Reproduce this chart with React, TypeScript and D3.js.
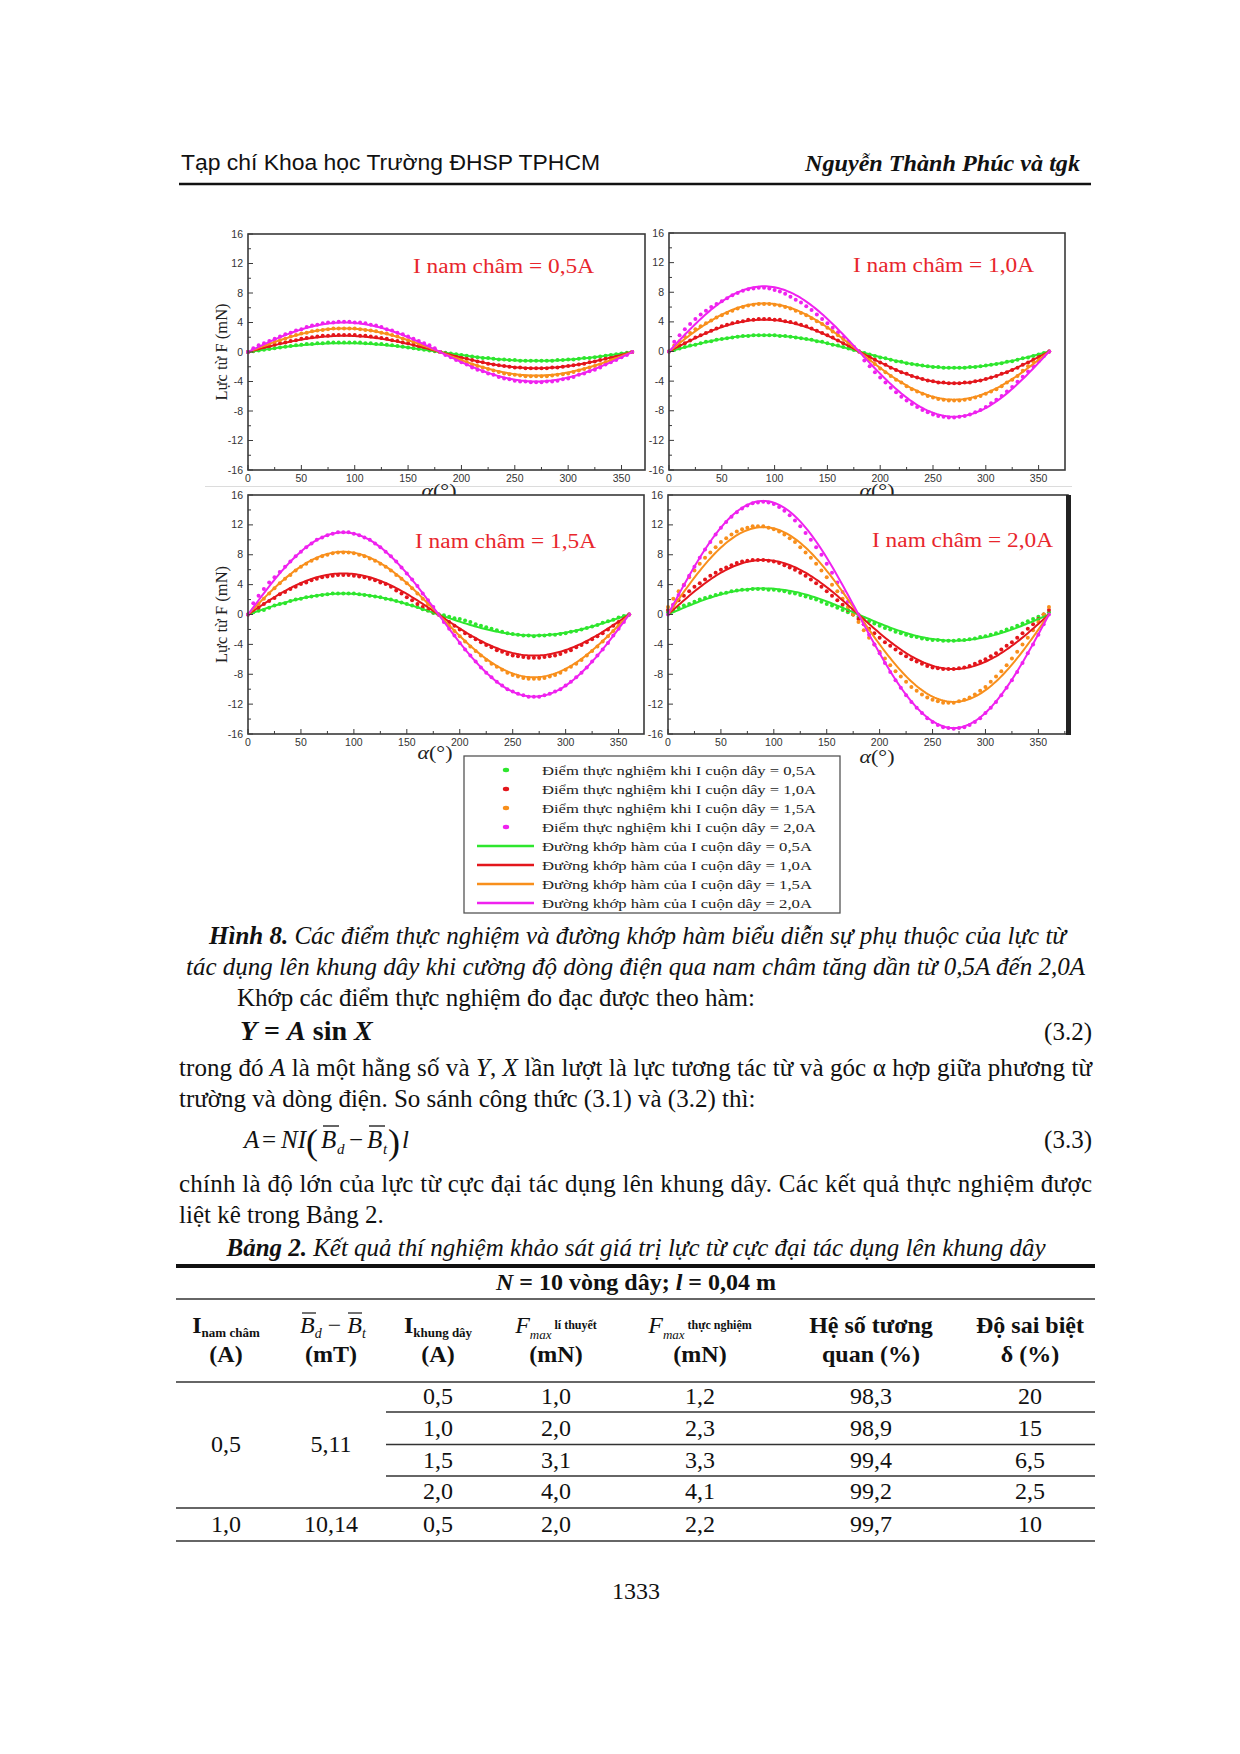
import React from 'react'
import * as d3 from 'd3'

// góc đo (độ), bước 5°
const angles = d3.range(0, 361, 5)

const seriesColors = ['#2ee62e', '#e3161c', '#f88f1c', '#ef22ef']
const coilCurrents = ['0,5A', '1,0A', '1,5A', '2,0A']
const magnetCurrents = ['0,5A', '1,0A', '1,5A', '2,0A']

// biên độ A của đường khớp hàm Y = A sin X (mN)
const fitAmp05 = [1.2, 2.2, 3.2, 4.0]
const fitAmp10 = [2.2, 4.3, 6.5, 8.8]
const fitAmp15 = [2.8, 5.5, 8.4, 11.0]
const fitAmp20 = [3.5, 7.3, 11.7, 15.2]

// điểm thực nghiệm (mN), I nam châm = 0,5A
const pts05Green = [0, 0.1, 0.2, 0.3, 0.4, 0.5, 0.6, 0.7, 0.8, 0.9, 1.0, 1.1, 1.1, 1.2, 1.2, 1.3, 1.3, 1.3, 1.3,
  1.3, 1.3, 1.3, 1.2, 1.2, 1.1, 1.1, 1.0, 0.9, 0.8, 0.7, 0.6, 0.5, 0.4, 0.3, 0.2, 0.1, 0,
  -0.1, -0.2, -0.3, -0.4, -0.5, -0.6, -0.7, -0.8, -0.8, -0.9, -1.0, -1.0, -1.1, -1.1, -1.2, -1.2, -1.2, -1.2,
  -1.2, -1.2, -1.2, -1.1, -1.1, -1.0, -1.0, -0.9, -0.8, -0.8, -0.7, -0.6, -0.5, -0.4, -0.3, -0.2, -0.1, 0]
const pts05Red = [0, 0.2, 0.4, 0.6, 0.8, 1.0, 1.2, 1.3, 1.5, 1.6, 1.8, 1.9, 2.0, 2.1, 2.2, 2.2, 2.3, 2.3, 2.3,
  2.3, 2.3, 2.2, 2.2, 2.1, 2.0, 1.9, 1.8, 1.6, 1.5, 1.3, 1.2, 1.0, 0.8, 0.6, 0.4, 0.2, 0,
  -0.2, -0.4, -0.6, -0.8, -0.9, -1.1, -1.3, -1.4, -1.6, -1.7, -1.8, -1.9, -2.0, -2.1, -2.1, -2.2, -2.2, -2.2,
  -2.2, -2.2, -2.1, -2.1, -2.0, -1.9, -1.8, -1.7, -1.6, -1.4, -1.3, -1.1, -0.9, -0.8, -0.6, -0.4, -0.2, 0]
const pts05Orange = [0, 0.3, 0.6, 0.8, 1.1, 1.4, 1.6, 1.8, 2.1, 2.3, 2.5, 2.6, 2.8, 2.9, 3.0, 3.1, 3.2, 3.2, 3.2,
  3.2, 3.2, 3.1, 3.0, 2.9, 2.8, 2.6, 2.5, 2.3, 2.1, 1.8, 1.6, 1.4, 1.1, 0.8, 0.6, 0.3, 0,
  -0.3, -0.6, -0.9, -1.1, -1.4, -1.7, -1.9, -2.1, -2.3, -2.5, -2.7, -2.9, -3.0, -3.1, -3.2, -3.3, -3.3, -3.3,
  -3.3, -3.3, -3.2, -3.1, -3.0, -2.9, -2.7, -2.5, -2.3, -2.1, -1.9, -1.7, -1.4, -1.1, -0.9, -0.6, -0.3, 0]
const pts05Magenta = [0, 0.5, 0.9, 1.2, 1.5, 1.8, 2.1, 2.4, 2.6, 2.9, 3.1, 3.4, 3.6, 3.7, 3.9, 4.0, 4.0, 4.1, 4.1,
  4.1, 4.0, 4.0, 3.9, 3.7, 3.6, 3.4, 3.1, 2.9, 2.6, 2.4, 2.1, 1.8, 1.5, 1.2, 0.9, 0.5, 0,
  -0.4, -0.7, -1.1, -1.4, -1.7, -2.1, -2.4, -2.6, -2.9, -3.1, -3.4, -3.6, -3.7, -3.9, -4.0, -4.0, -4.1, -4.1,
  -4.1, -4.0, -4.0, -3.9, -3.7, -3.6, -3.4, -3.1, -2.9, -2.6, -2.4, -2.1, -1.7, -1.4, -1.1, -0.7, -0.4, 0]

// I nam châm = 1,0A
const pts10Green = [0, 0.2, 0.4, 0.6, 0.8, 0.9, 1.1, 1.3, 1.4, 1.6, 1.7, 1.8, 1.9, 2.0, 2.1, 2.1, 2.2, 2.2, 2.2,
  2.2, 2.2, 2.1, 2.1, 2.0, 1.9, 1.8, 1.7, 1.6, 1.4, 1.3, 1.1, 0.9, 0.8, 0.6, 0.4, 0.2, 0,
  -0.2, -0.4, -0.6, -0.8, -0.9, -1.1, -1.3, -1.4, -1.6, -1.7, -1.8, -1.9, -2.0, -2.1, -2.1, -2.2, -2.2, -2.2,
  -2.2, -2.2, -2.1, -2.1, -2.0, -1.9, -1.8, -1.7, -1.6, -1.4, -1.3, -1.1, -0.9, -0.8, -0.6, -0.4, -0.2, 0]
const pts10Red = [0, 0.4, 0.8, 1.1, 1.5, 1.9, 2.2, 2.5, 2.8, 3.1, 3.4, 3.6, 3.8, 4.0, 4.1, 4.3, 4.3, 4.4, 4.4,
  4.4, 4.3, 4.3, 4.1, 4.0, 3.8, 3.6, 3.4, 3.1, 2.8, 2.5, 2.2, 1.9, 1.5, 1.1, 0.8, 0.4, 0,
  -0.4, -0.7, -1.1, -1.5, -1.8, -2.2, -2.5, -2.8, -3.0, -3.3, -3.5, -3.7, -3.9, -4.0, -4.2, -4.2, -4.3, -4.3,
  -4.3, -4.2, -4.2, -4.0, -3.9, -3.7, -3.5, -3.3, -3.0, -2.8, -2.5, -2.2, -1.8, -1.5, -1.1, -0.7, -0.4, 0]
const pts10Orange = [0, 0.8, 1.4, 2.0, 2.5, 3.0, 3.4, 3.8, 4.2, 4.6, 4.9, 5.2, 5.5, 5.8, 6.0, 6.2, 6.3, 6.4, 6.4,
  6.4, 6.3, 6.2, 6.0, 5.8, 5.5, 5.2, 4.9, 4.5, 4.1, 3.7, 3.2, 2.7, 2.2, 1.7, 1.1, 0.6, 0,
  -0.6, -1.1, -1.7, -2.3, -2.8, -3.3, -3.8, -4.2, -4.7, -5.1, -5.4, -5.7, -6.0, -6.2, -6.4, -6.5, -6.6, -6.6,
  -6.6, -6.5, -6.4, -6.2, -6.0, -5.7, -5.4, -5.1, -4.7, -4.2, -3.8, -3.3, -2.6, -2.0, -1.4, -0.9, -0.4, 0]
const pts10Magenta = [0, 1.3, 2.2, 3.0, 3.7, 4.4, 5.0, 5.5, 6.0, 6.4, 6.8, 7.2, 7.6, 7.9, 8.2, 8.4, 8.5, 8.6, 8.6,
  8.5, 8.3, 8.1, 7.8, 7.4, 7.0, 6.6, 6.1, 5.6, 5.0, 4.4, 3.8, 3.2, 2.6, 1.9, 1.3, 0.6, 0,
  -1.2, -2.0, -2.8, -3.5, -4.2, -4.9, -5.5, -6.1, -6.6, -7.1, -7.5, -7.9, -8.2, -8.5, -8.7, -8.8, -8.9, -8.9,
  -8.8, -8.7, -8.5, -8.2, -7.9, -7.5, -7.0, -6.5, -6.0, -5.4, -4.8, -4.1, -3.4, -2.7, -2.0, -1.3, -0.6, 0]

// I nam châm = 1,5A
const pts15Green = [0, 0.3, 0.5, 0.6, 0.9, 1.2, 1.4, 1.5, 1.8, 2.0, 2.1, 2.3, 2.4, 2.5, 2.6, 2.7, 2.8, 2.8, 2.8,
  2.8, 2.8, 2.7, 2.6, 2.5, 2.4, 2.3, 2.1, 2.0, 1.8, 1.6, 1.4, 1.2, 1.0, 0.7, 0.5, 0.2, 0,
  -0.1, -0.3, -0.5, -0.6, -0.8, -1.0, -1.3, -1.5, -1.7, -1.9, -2.1, -2.3, -2.5, -2.6, -2.7, -2.8, -2.8, -2.9,
  -2.8, -2.8, -2.7, -2.7, -2.6, -2.5, -2.3, -2.2, -2.0, -1.8, -1.6, -1.4, -1.1, -0.9, -0.7, -0.4, -0.2, 0]
const pts15Red = [0, 0.5, 0.9, 1.4, 1.8, 2.2, 2.7, 3.0, 3.4, 3.7, 4.1, 4.3, 4.6, 4.8, 5.0, 5.1, 5.2, 5.3, 5.3,
  5.3, 5.2, 5.1, 5.0, 4.8, 4.6, 4.3, 4.1, 3.7, 3.2, 2.8, 2.3, 1.9, 1.4, 1.0, 0.6, 0.3, 0,
  -0.5, -1.0, -1.5, -2.0, -2.5, -2.9, -3.3, -3.7, -4.1, -4.4, -4.8, -5.0, -5.3, -5.5, -5.6, -5.7, -5.8, -5.8,
  -5.8, -5.7, -5.6, -5.5, -5.3, -5.0, -4.8, -4.4, -4.1, -3.7, -3.3, -2.9, -2.5, -2.0, -1.5, -1.0, -0.5, 0]
const pts15Orange = [0, 0.7, 1.4, 2.1, 2.8, 3.5, 4.2, 4.8, 5.3, 5.9, 6.4, 6.8, 7.2, 7.5, 7.8, 8.0, 8.2, 8.3, 8.3,
  8.3, 8.2, 8.0, 7.8, 7.5, 7.2, 6.8, 6.4, 5.9, 5.3, 4.8, 4.2, 3.5, 2.8, 2.1, 1.4, 0.7, 0,
  -0.7, -1.5, -2.2, -2.9, -3.6, -4.3, -4.9, -5.5, -6.1, -6.6, -7.0, -7.4, -7.8, -8.1, -8.3, -8.5, -8.6, -8.6,
  -8.6, -8.5, -8.3, -8.1, -7.8, -7.4, -7.0, -6.6, -6.1, -5.5, -4.9, -4.3, -3.6, -2.9, -2.2, -1.5, -0.7, 0]
const pts15Magenta = [0, 1.5, 2.5, 3.4, 4.3, 5.0, 5.7, 6.4, 7.1, 7.8, 8.4, 9.0, 9.5, 10.0, 10.3, 10.6, 10.8, 11.0, 11.0,
  11.0, 10.8, 10.6, 10.3, 10.0, 9.5, 9.0, 8.4, 7.8, 7.1, 6.3, 5.5, 4.7, 3.8, 2.8, 1.9, 1.0, 0,
  -1.0, -1.9, -2.8, -3.8, -4.7, -5.5, -6.3, -7.1, -7.8, -8.4, -9.0, -9.5, -10.0, -10.3, -10.6, -10.8, -11.0, -11.0,
  -11.0, -10.8, -10.6, -10.3, -10.0, -9.5, -9.0, -8.4, -7.8, -7.1, -6.3, -5.5, -4.7, -3.8, -2.8, -1.9, -1.0, 0]

// I nam châm = 2,0A
const pts20Green = [0.3, 0.6, 0.9, 1.2, 1.4, 1.7, 2.0, 2.2, 2.4, 2.6, 2.8, 2.9, 3.1, 3.2, 3.3, 3.3, 3.4, 3.4,
  3.4, 3.3, 3.3, 3.2, 3.1, 2.9, 2.8, 2.6, 2.4, 2.2, 2.0, 1.7, 1.4, 1.2, 0.9, 0.6, 0.3, 0,
  -0.3, -0.6, -0.9, -1.2, -1.5, -1.8, -2.0, -2.3, -2.5, -2.7, -2.9, -3.0, -3.2, -3.3, -3.4, -3.4, -3.5, -3.5,
  -3.5, -3.4, -3.4, -3.3, -3.2, -3.0, -2.9, -2.7, -2.5, -2.3, -2.0, -1.8, -1.5, -1.2, -0.9, -0.6, -0.3, 0, 0.3]
const pts20Red = [0.6, 1.3, 1.9, 2.5, 3.1, 3.7, 4.2, 4.7, 5.2, 5.6, 6.0, 6.3, 6.6, 6.9, 7.1, 7.2, 7.3, 7.3,
  7.3, 7.2, 7.1, 6.9, 6.6, 6.3, 6.0, 5.6, 5.2, 4.7, 4.2, 3.7, 3.1, 2.5, 1.9, 1.3, 0.6, 0,
  -0.6, -1.3, -1.9, -2.5, -3.1, -3.7, -4.2, -4.7, -5.2, -5.6, -6.0, -6.3, -6.6, -6.9, -7.1, -7.2, -7.3, -7.3,
  -7.3, -7.2, -7.1, -6.9, -6.6, -6.3, -6.0, -5.6, -5.2, -4.7, -4.2, -3.7, -3.1, -2.5, -1.9, -1.3, -0.6, 0, 0.6]
const pts20Orange = [1.0, 2.1, 3.1, 4.0, 5.0, 5.9, 6.8, 7.6, 8.3, 9.0, 9.7, 10.2, 10.7, 11.1, 11.4, 11.6, 11.8, 11.8,
  11.8, 11.6, 11.4, 11.1, 10.7, 10.2, 9.7, 9.0, 8.3, 7.6, 6.8, 5.9, 5.0, 4.0, 3.1, 2.1, 1.0, 0,
  -1.0, -2.1, -3.1, -4.0, -5.0, -5.9, -6.8, -7.6, -8.3, -9.0, -9.7, -10.2, -10.7, -11.1, -11.4, -11.6, -11.8, -11.8,
  -11.8, -11.6, -11.4, -11.1, -10.7, -10.2, -9.7, -9.0, -8.3, -7.6, -6.8, -5.9, -5.0, -4.0, -3.1, -2.1, -1.0, 0, 1.0]
const pts20Magenta = [0, 1.3, 2.6, 3.9, 5.2, 6.4, 7.6, 8.7, 9.7, 10.7, 11.6, 12.4, 13.1, 13.7, 14.2, 14.6, 14.9, 15.0, 15.1,
  15.0, 14.8, 14.4, 13.9, 13.3, 12.6, 11.8, 10.9, 10.0, 9.0, 8.0, 6.8, 5.6, 4.3, 3.0, 1.7, 0.6, 0,
  -1.3, -2.7, -4.0, -5.2, -6.5, -7.7, -8.8, -9.8, -10.8, -11.7, -12.5, -13.2, -13.9, -14.4, -14.8, -15.1, -15.2, -15.3,
  -15.2, -15.1, -14.8, -14.4, -13.9, -13.2, -12.5, -11.7, -10.8, -9.8, -8.8, -7.7, -6.5, -5.2, -4.0, -2.7, -1.3, 0]

// Bảng 2
const tblCoil = ['0,5', '1,0', '1,5', '2,0', '0,5']
const tblFTheory = ['1,0', '2,0', '3,1', '4,0', '2,0']
const tblFExp = ['1,2', '2,3', '3,3', '4,1', '2,2']
const tblCorrelation = ['98,3', '98,9', '99,4', '99,2', '99,7']
const tblDeviation = ['20', '15', '6,5', '2,5', '10']

const SERIF = "'Liberation Serif', 'Times New Roman', serif"
const SANS = "'Liberation Sans', Arial, sans-serif"

const panels = [
  { left: 248, right: 645, top: 234, bottom: 470, xMax: 372, title: magnetCurrents[0], titleX: 413, titleY: 273, yLabel: true, xLabelX: 439, xLabelY: 497, fits: fitAmp05, pts: [pts05Green, pts05Red, pts05Orange, pts05Magenta] },
  { left: 669, right: 1065, top: 233, bottom: 470, xMax: 375, title: magnetCurrents[1], titleX: 853, titleY: 272, yLabel: false, xLabelX: 877, xLabelY: 497, fits: fitAmp10, pts: [pts10Green, pts10Red, pts10Orange, pts10Magenta] },
  { left: 248, right: 644, top: 495, bottom: 734, xMax: 374, title: magnetCurrents[2], titleX: 415, titleY: 548, yLabel: true, xLabelX: 435, xLabelY: 759, fits: fitAmp15, pts: [pts15Green, pts15Red, pts15Orange, pts15Magenta] },
  { left: 668, right: 1068, top: 495, bottom: 734, xMax: 378, title: magnetCurrents[3], titleX: 872, titleY: 547, yLabel: false, xLabelX: 877, xLabelY: 763, fits: fitAmp20, pts: [pts20Green, pts20Red, pts20Orange, pts20Magenta] },
]

const Panel = ({ p }: any) => {
  const x = d3.scaleLinear().domain([0, p.xMax]).range([p.left, p.right])
  const y = d3.scaleLinear().domain([-16, 16]).range([p.bottom, p.top])
  const fitAngles = d3.range(0, 360.5, 2)
  const line = d3.line<[number, number]>()
  const yMajor = d3.range(-16, 17, 4)
  const yMinor = d3.range(-14, 16, 4)
  const xMajor = d3.range(0, 351, 50)
  const xMinor = d3.range(25, 376, 50).filter((v) => v < p.xMax)
  return (
    <g>
      <rect x={p.left} y={p.top} width={p.right - p.left} height={p.bottom - p.top} fill="#fff" />
      {p.pts.map((vals: number[], si: number) =>
        vals.map((v, i) => (
          <circle key={`${si}-${i}`} cx={x(angles[i])} cy={y(v)} r={2} fill={seriesColors[si]} />
        ))
      )}
      {p.fits.map((A: number, si: number) => (
        <path
          key={si}
          d={line(fitAngles.map((a) => [x(a), y(A * Math.sin((a * Math.PI) / 180))])) || ''}
          fill="none"
          stroke={seriesColors[si]}
          strokeWidth={2}
        />
      ))}
      <rect x={p.left} y={p.top} width={p.right - p.left} height={p.bottom - p.top} fill="none" stroke="#3a3a3a" strokeWidth={1.6} />
      {yMajor.map((v) => (
        <g key={`ym${v}`}>
          <line x1={p.left} x2={p.left + 5} y1={y(v)} y2={y(v)} stroke="#3a3a3a" strokeWidth={1} />
          <text x={p.left - 5} y={y(v) + 3.5} textAnchor="end" fontFamily={SANS} fontSize={10.5} fill="#333">{v}</text>
        </g>
      ))}
      {yMinor.map((v) => (
        <line key={`yn${v}`} x1={p.left} x2={p.left + 3} y1={y(v)} y2={y(v)} stroke="#3a3a3a" strokeWidth={1} />
      ))}
      {xMajor.map((v) => (
        <g key={`xm${v}`}>
          <line x1={x(v)} x2={x(v)} y1={p.bottom} y2={p.bottom - 5} stroke="#3a3a3a" strokeWidth={1} />
          <text x={x(v)} y={p.bottom + 12} textAnchor="middle" fontFamily={SANS} fontSize={10.5} fill="#333">{v}</text>
        </g>
      ))}
      {xMinor.map((v) => (
        <line key={`xn${v}`} x1={x(v)} x2={x(v)} y1={p.bottom} y2={p.bottom - 3} stroke="#3a3a3a" strokeWidth={1} />
      ))}
      <text x={p.titleX} y={p.titleY} fontFamily={SERIF} fontSize={20} fill="#e8262c" textLength={181} lengthAdjust="spacingAndGlyphs">
        I nam châm = {p.title}
      </text>
      {p.yLabel && (
        <text
          transform={`translate(${p.left - 27},${(p.top + p.bottom) / 2}) rotate(-90)`}
          textAnchor="middle"
          dominantBaseline="central"
          fontFamily={SERIF}
          fontSize={16.5}
          fill="#222"
        >
          Lực từ F (mN)
        </text>
      )}
      <text x={p.xLabelX} y={p.xLabelY} textAnchor="middle" fontFamily={SERIF} fontSize={18} fill="#222" textLength={35} lengthAdjust="spacingAndGlyphs">
        <tspan fontStyle="italic">α</tspan>(°)
      </text>
    </g>
  )
}

const Legend = () => {
  const rows = [
    ...coilCurrents.map((c, i) => ({ kind: 'dot', color: seriesColors[i], label: `Điểm thực nghiệm khi I cuộn dây = ${c}` })),
    ...coilCurrents.map((c, i) => ({ kind: 'line', color: seriesColors[i], label: `Đường khớp hàm của I cuộn dây = ${c}` })),
  ]
  return (
    <g>
      <rect x={464} y={756} width={376} height={157} fill="#fff" stroke="#555" strokeWidth={1.3} />
      {rows.map((r, i) => {
        const cy = 770 + i * 19
        return (
          <g key={i}>
            {r.kind === 'dot' ? (
              <ellipse cx={506} cy={cy} rx={3.2} ry={2.2} fill={r.color} />
            ) : (
              <line x1={477} x2={534} y1={cy} y2={cy} stroke={r.color} strokeWidth={2.5} />
            )}
            <text x={542} y={cy + 4.5} fontFamily={SERIF} fontSize={13.5} fill="#222" textLength={r.kind === 'dot' ? 274 : 270} lengthAdjust="spacingAndGlyphs">
              {r.label}
            </text>
          </g>
        )
      })}
    </g>
  )
}

const colX = [226, 331, 438, 556, 700, 871, 1030]
const rowY = [1404, 1436, 1468, 1499, 1532]

const Table = () => {
  const rule = (yy: number, x1: number, w: number) => <line x1={x1} x2={1095} y1={yy} y2={yy} stroke="#333" strokeWidth={w} />
  return (
    <g fontFamily={SERIF} fill="#111">
      <text x={636} y={1256} textAnchor="middle" fontSize={25} fontStyle="italic" textLength={819} lengthAdjust="spacing">
        <tspan fontWeight="bold">Bảng 2.</tspan> Kết quả thí nghiệm khảo sát giá trị lực từ cực đại tác dụng lên khung dây
      </text>
      <line x1={176} x2={1095} y1={1266} y2={1266} stroke="#111" strokeWidth={4} />
      <text x={636} y={1290} textAnchor="middle" fontSize={24} fontWeight="bold">
        <tspan fontStyle="italic">N</tspan> = 10 vòng dây; <tspan fontStyle="italic">l</tspan> = 0,04 m
      </text>
      {rule(1299, 176, 1.3)}
      {/* hàng tiêu đề */}
      <text x={colX[0]} y={1333} textAnchor="middle" fontWeight="bold" fontSize={24}>
        I<tspan fontSize={13} dy={4}>nam châm</tspan>
      </text>
      <text x={colX[0]} y={1362} textAnchor="middle" fontWeight="bold" fontSize={24}>(A)</text>
      <text x={300} y={1333} fontSize={24} fontStyle="italic">
        B<tspan fontSize={14} dy={5}>d</tspan><tspan dy={-5} fontStyle="normal"> − </tspan>B<tspan fontSize={14} dy={5}>t</tspan>
      </text>
      <line x1={302} x2={316} y1={1313} y2={1313} stroke="#111" strokeWidth={1.2} />
      <line x1={348} x2={362} y1={1313} y2={1313} stroke="#111" strokeWidth={1.2} />
      <text x={colX[1]} y={1362} textAnchor="middle" fontWeight="bold" fontSize={24}>(mT)</text>
      <text x={colX[2]} y={1333} textAnchor="middle" fontWeight="bold" fontSize={24}>
        I<tspan fontSize={13} dy={4}>khung dây</tspan>
      </text>
      <text x={colX[2]} y={1362} textAnchor="middle" fontWeight="bold" fontSize={24}>(A)</text>
      <text x={colX[3]} y={1333} textAnchor="middle" fontSize={24}>
        <tspan fontStyle="italic">F</tspan>
        <tspan fontStyle="italic" fontSize={13} dy={6}>max</tspan>
        <tspan fontSize={12} dy={-10} fontWeight="bold"> lí thuyết</tspan>
      </text>
      <text x={colX[3]} y={1362} textAnchor="middle" fontWeight="bold" fontSize={24}>(mN)</text>
      <text x={colX[4]} y={1333} textAnchor="middle" fontSize={24}>
        <tspan fontStyle="italic">F</tspan>
        <tspan fontStyle="italic" fontSize={13} dy={6}>max</tspan>
        <tspan fontSize={12} dy={-10} fontWeight="bold"> thực nghiệm</tspan>
      </text>
      <text x={colX[4]} y={1362} textAnchor="middle" fontWeight="bold" fontSize={24}>(mN)</text>
      <text x={colX[5]} y={1333} textAnchor="middle" fontWeight="bold" fontSize={24}>Hệ số tương</text>
      <text x={colX[5]} y={1362} textAnchor="middle" fontWeight="bold" fontSize={24}>quan (%)</text>
      <text x={colX[6]} y={1333} textAnchor="middle" fontWeight="bold" fontSize={24}>Độ sai biệt</text>
      <text x={colX[6]} y={1362} textAnchor="middle" fontWeight="bold" fontSize={24}>δ (%)</text>
      {rule(1382, 176, 1.5)}
      {/* dữ liệu */}
      <text x={colX[0]} y={1452} textAnchor="middle" fontSize={24}>0,5</text>
      <text x={colX[1]} y={1452} textAnchor="middle" fontSize={24}>5,11</text>
      <text x={colX[0]} y={rowY[4]} textAnchor="middle" fontSize={24}>1,0</text>
      <text x={colX[1]} y={rowY[4]} textAnchor="middle" fontSize={24}>10,14</text>
      {rowY.map((yy, i) => (
        <g key={i} fontSize={24} textAnchor="middle">
          <text x={colX[2]} y={yy}>{tblCoil[i]}</text>
          <text x={colX[3]} y={yy}>{tblFTheory[i]}</text>
          <text x={colX[4]} y={yy}>{tblFExp[i]}</text>
          <text x={colX[5]} y={yy}>{tblCorrelation[i]}</text>
          <text x={colX[6]} y={yy}>{tblDeviation[i]}</text>
        </g>
      ))}
      {rule(1412, 386, 1.3)}
      {rule(1444.5, 386, 1.3)}
      {rule(1476, 386, 1.3)}
      {rule(1508, 176, 1.5)}
      {rule(1541, 176, 1.5)}
    </g>
  )
}

export default function App() {
  return (
    <svg width={1240} height={1754} viewBox="0 0 1240 1754" style={{ position: 'absolute', left: 0, top: 0, background: '#fff' }} fontFamily={SERIF}>
      <rect width={1240} height={1754} fill="#fff" />
      {/* đầu trang */}
      <text x={181} y={170} fontFamily={SANS} fontSize={22} fill="#111" textLength={419} lengthAdjust="spacingAndGlyphs">
        Tạp chí Khoa học Trường ĐHSP TPHCM
      </text>
      <text x={1080} y={171} textAnchor="end" fontSize={24} fontWeight="bold" fontStyle="italic" fill="#111" textLength={275} lengthAdjust="spacingAndGlyphs">
        Nguyễn Thành Phúc và tgk
      </text>
      <line x1={179} x2={1091} y1={184} y2={184} stroke="#111" strokeWidth={2.5} />

      {/* biểu đồ */}
      <line x1={205} x2={1072} y1={486.5} y2={486.5} stroke="#dcdcdc" strokeWidth={1} />
      {panels.map((p, i) => (
        <Panel key={i} p={p} />
      ))}
      <rect x={1066} y={495} width={5} height={240} fill="#222" />
      <Legend />

      {/* chú thích hình */}
      <text x={209} y={944} fontSize={25} fontStyle="italic" fill="#111" textLength={857} lengthAdjust="spacing">
        <tspan fontWeight="bold">Hình 8.</tspan> Các điểm thực nghiệm và đường khớp hàm biểu diễn sự phụ thuộc của lực từ
      </text>
      <text x={186} y={975} fontSize={25} fontStyle="italic" fill="#111" textLength={899} lengthAdjust="spacing">
        tác dụng lên khung dây khi cường độ dòng điện qua nam châm tăng dần từ 0,5A đến 2,0A
      </text>

      {/* nội dung */}
      <text x={237} y={1006} fontSize={25} fill="#111">Khớp các điểm thực nghiệm đo đạc được theo hàm:</text>
      <text x={240} y={1040} fontSize={28} fontWeight="bold" fill="#111">
        <tspan fontStyle="italic">Y</tspan> = <tspan fontStyle="italic">A</tspan> sin <tspan fontStyle="italic">X</tspan>
      </text>
      <text x={1092} y={1040} textAnchor="end" fontSize={25} fill="#111">(3.2)</text>
      <text x={179} y={1076} fontSize={25} fill="#111" textLength={913} lengthAdjust="spacing">
        trong đó <tspan fontStyle="italic">A</tspan> là một hằng số và <tspan fontStyle="italic">Y</tspan>, <tspan fontStyle="italic">X</tspan> lần lượt là lực tương tác từ và góc α hợp giữa phương từ
      </text>
      <text x={179} y={1107} fontSize={25} fill="#111">trường và dòng điện. So sánh công thức (3.1) và (3.2) thì:</text>

      {/* công thức 3.3 */}
      <g fill="#111">
        <text x={244} y={1148} fontSize={25} fontStyle="italic">A</text>
        <text x={262} y={1148} fontSize={25}>=</text>
        <text x={281} y={1148} fontSize={25} fontStyle="italic">NI</text>
        <text x={306} y={1154} fontSize={36} fontWeight="300">(</text>
        <text x={321} y={1148} fontSize={25} fontStyle="italic">B</text>
        <text x={337} y={1154} fontSize={15} fontStyle="italic">d</text>
        <text x={349} y={1148} fontSize={25}>−</text>
        <text x={367} y={1148} fontSize={25} fontStyle="italic">B</text>
        <text x={383} y={1154} fontSize={15} fontStyle="italic">t</text>
        <text x={388} y={1154} fontSize={36} fontWeight="300">)</text>
        <text x={402} y={1148} fontSize={25} fontStyle="italic">l</text>
        <line x1={323} x2={339} y1={1126} y2={1126} stroke="#111" strokeWidth={1.3} />
        <line x1={369} x2={385} y1={1126} y2={1126} stroke="#111" strokeWidth={1.3} />
      </g>
      <text x={1092} y={1148} textAnchor="end" fontSize={25} fill="#111">(3.3)</text>
      <text x={179} y={1192} fontSize={25} fill="#111" textLength={913} lengthAdjust="spacing">
        chính là độ lớn của lực từ cực đại tác dụng lên khung dây. Các kết quả thực nghiệm được
      </text>
      <text x={179} y={1223} fontSize={25} fill="#111">liệt kê trong Bảng 2.</text>

      <Table />

      <text x={636} y={1599} textAnchor="middle" fontSize={24} fill="#111">1333</text>
    </svg>
  )
}
